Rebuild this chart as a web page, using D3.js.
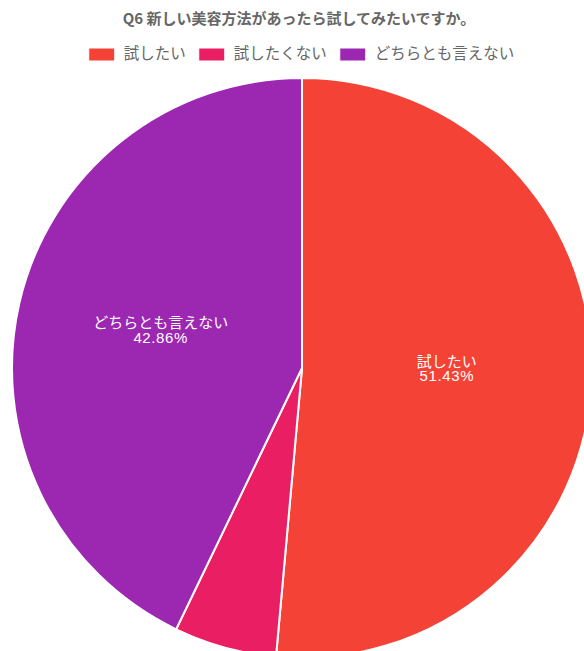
<!DOCTYPE html>
<html>
<head>
<meta charset="utf-8">
<script src="https://cdn.jsdelivr.net/npm/d3@7"></script>
<style>
  body { margin: 0; background: #fff; }
  svg { display: block; }
</style>
</head>
<body>
<div id="chart"></div>
<script>
var title = "Q6 新しい美容方法があったら試してみたいですか。";
var categories = ["試したい", "試したくない", "どちらとも言えない"];
var counts = [18, 2, 15];
var colors = ["#F44336", "#E91E63", "#9C27B0"];

var width = 584, height = 651;
var font = "'Noto Sans CJK JP', 'Noto Sans', sans-serif";
var cx = 302, cy = 368, radius = 290;

var svg = d3.select("#chart")
    .append("svg")
        .attr("width", width)
        .attr("height", height);

// title
svg.append("text")
    .attr("x", 299)
    .attr("y", 20)
    .attr("dominant-baseline", "middle")
    .attr("text-anchor", "middle")
    .attr("font-family", font)
    .attr("font-size", "15px")
    .attr("font-weight", "bold")
    .attr("fill", "#666")
    .text(title);

// legend, laid out from measured widths and centred
var legend = svg.append("g");
var boxW = 26, boxH = 13, gapText = 9, gapItem = 13;
var xpos = 0;
categories.forEach(function(d, i){
    var item = legend.append("g");
    item.append("rect")
        .attr("x", xpos)
        .attr("y", 48)
        .attr("width", boxW)
        .attr("height", boxH)
        .attr("fill", colors[i])
        .attr("stroke", "#fff")
        .attr("stroke-width", 1);
    var t = item.append("text")
        .attr("x", xpos + boxW + gapText)
        .attr("y", 55)
        .attr("dominant-baseline", "middle")
        .attr("font-family", font)
        .attr("font-size", "15.5px")
        .attr("fill", "#666")
        .text(d);
    xpos += boxW + gapText + t.node().getComputedTextLength() + gapItem;
});
var legendW = xpos - gapItem;
legend.attr("transform", "translate(" + (301.5 - legendW / 2) + ",0)");

// pie
var total = d3.sum(counts);
var data = categories.map(function(d, i){ return { name: d, value: counts[i], color: colors[i] }; });

var pie = d3.pie()
    .sort(null)
    .value(function(d){ return d.value; });

var arc = d3.arc()
    .innerRadius(0)
    .outerRadius(radius);

var labelArc = d3.arc()
    .innerRadius(radius / 2)
    .outerRadius(radius / 2);

var g = svg.append("g")
    .attr("transform", "translate(" + cx + "," + cy + ")");

var arcs = pie(data);

g.selectAll("path")
    .data(arcs)
    .enter()
    .append("path")
        .attr("d", arc)
        .attr("fill", function(d){ return d.data.color; })
        .attr("stroke", "#fff")
        .attr("stroke-width", 2);

// labels only on slices big enough
var big = arcs.filter(function(d){ return d.data.value / total > 0.1; });

g.selectAll(".slice-name")
    .data(big)
    .enter()
    .append("text")
        .attr("class", "slice-name")
        .attr("transform", function(d){
            var c = labelArc.centroid(d);
            return "translate(" + c[0] + "," + (c[1] - 12) + ")";
        })
        .attr("text-anchor", "middle")
        .attr("dominant-baseline", "middle")
        .attr("font-family", font)
        .attr("font-size", "15px")
        .attr("fill", "#fff")
        .text(function(d){ return d.data.name; });

g.selectAll(".slice-pct")
    .data(big)
    .enter()
    .append("text")
        .attr("class", "slice-pct")
        .attr("transform", function(d){
            var c = labelArc.centroid(d);
            return "translate(" + c[0] + "," + (c[1] + 3) + ")";
        })
        .attr("text-anchor", "middle")
        .attr("dominant-baseline", "middle")
        .attr("font-family", "'Liberation Sans', Arial, sans-serif")
        .attr("font-size", "15px")
        .attr("letter-spacing", "0.6px")
        .attr("fill", "#fff")
        .text(function(d){ return (d.data.value / total * 100).toFixed(2) + "%"; });
</script>
</body>
</html>
